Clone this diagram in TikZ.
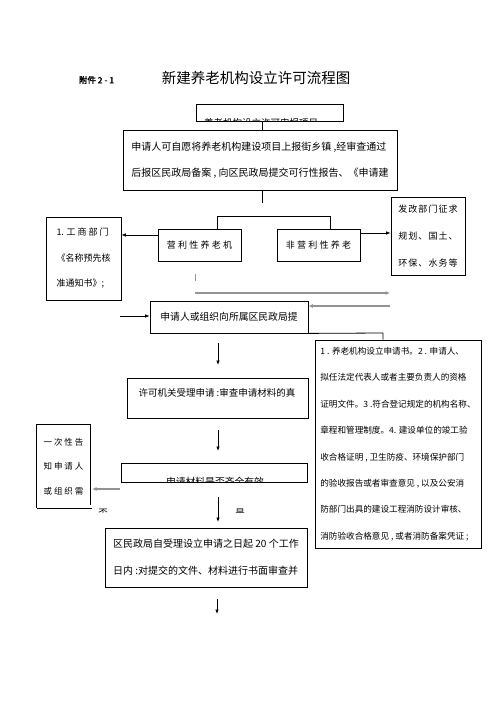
\documentclass[tikz,border=0pt]{standalone}
\usepackage{fontspec}
\setmainfont{Noto Sans CJK SC}
\newfontfamily\lsA[LetterSpace=25]{Noto Sans CJK SC}
\newfontfamily\lsB[LetterSpace=12]{Noto Sans CJK SC}
\newfontfamily\fbold[FakeBold=2]{Noto Sans CJK SC}
\usetikzlibrary{arrows.meta,calc}
\begin{document}
\begin{tikzpicture}[x=1pt,y=-1pt,
  box/.style={draw,line width=0.8pt,inner sep=0pt,align=left},
  arr/.style={-{Latex[length=4.5pt,width=3.6pt]},line width=0.8pt},
  garr/.style={-{Latex[length=4.5pt,width=4pt]},line width=1.3pt,draw=gray!85,fill=gray!85},
  ln/.style={line width=0.8pt}]
\useasboundingbox[fill=white] (0,0) rectangle (496,702);

% header
\node[font=\fbold\fontsize{8.5}{10}\selectfont] (fj) at (96.5,80) {附件 2 - 1};
\node[font=\fontsize{14.5}{16}\selectfont] (title) at (256,78) {新建养老机构设立许可流程图};

% top box with clipped text
\node[box,minimum width=147pt,minimum height=17pt] (top) at (269.5,112.5) {};
\begin{scope}
\clip (196,104) rectangle (343,121);
\node[font=\fontsize{9.5}{10}\selectfont] (toptext) at (261,122.5) {养老机构设立许可申报项目};
\end{scope}

% big box
\node[box,minimum width=274pt,minimum height=60pt,font=\fontsize{10}{26}\selectfont] (big) at (260,160)
  {申请人可自愿将养老机构建设项目上报街乡镇 ,经审查通过\\后报区民政局备案 , 向区民政局提交可行性报告、《申请建};
\draw[ln] ($(top.south)+(-7.5,0)$) -- ($(big.north)+(2,0)$);
\draw[ln] ($(big.south)+(2,0)$) -- ++(0,13);

% two type boxes
\node[box,minimum width=83pt,minimum height=32pt,font=\lsA\fontsize{9}{10}\selectfont] (ying) at (199.5,245) {营利性养老机};
\node[box,minimum width=83pt,minimum height=32pt,font=\lsA\fontsize{9}{10}\selectfont] (fei) at (318.5,245) {非营利性养老};
\coordinate (bl) at (217,216);
\coordinate (br) at (330,216);
\draw[ln] (bl |- ying.north) -- (bl) -- (br) -- (br |- fei.north);

% side boxes
\node[box,minimum width=75pt,minimum height=83pt,font=\fontsize{9}{25.5}\selectfont] (gs) at (83.5,258.5)
  {1. 工 商 部 门\\《名称预先核\\准通知书》;};
\node[box,minimum width=74pt,minimum height=78pt,font=\lsB\fontsize{9}{27}\selectfont] (fg) at (428,236)
  {发改部门征求\\规划、国土、\\环保、水务等};
\coordinate (a1) at ($(ying.west)+(0,-10)$);
\draw[arr] (a1) -- (a1 -| gs.east);
\coordinate (a2) at ($(fei.east)+(0,-12)$);
\draw[arr] (a2) -- (a2 -| fg.west);

% gray marks and arrows
\coordinate (t1) at (195,274);
\coordinate (t2) at (195,281);
\draw[line width=1pt,draw=gray!85] (t1) -- (t2);
\coordinate (g1) at (195,293);
\coordinate (g2) at (390,293);
\draw[garr] (g1) -- (g2);

% application box
\node[box,minimum width=158pt,minimum height=32pt,font=\fontsize{9.8}{10}\selectfont] (shen) at (229,317) {申请人或组织向所属区民政局提};
\coordinate (g3) at (390,306);
\draw[garr] (g3) -- (g3 -| shen.east);
\coordinate (in) at (120,316);
\draw[arr] (in) -- (in -| shen.west);

% right material box
\node[box,minimum width=166pt,minimum height=208pt,font=\fontsize{8.6}{26.4}\selectfont] (rb) at (398,444)
  {1 . 养老机构设立申请书。2 . 申请人、\\拟任法定代表人或者主要负责人的资格\\证明文件。3 .符合登记规定的机构名称、\\章程和管理制度。4. 建设单位的竣工验\\收合格证明 , 卫生防疫、环境保护部门\\的验收报告或者审查意见 , 以及公安消\\防部门出具的建设工程消防设计审核、\\消防验收合格意见 , 或者消防备案凭证 ;};
\coordinate (c1) at (383,333);
\draw[ln] (shen.south east) -- (c1) -- (c1 |- rb.north);

% acceptance box
\coordinate (d1) at (218,343);
\coordinate (d2) at (218,365);
\draw[arr] (d1) -- (d2);
\node[box,minimum width=181pt,minimum height=40pt] (xk) at (217.5,398) {};
\node[font=\fontsize{9.5}{10}\selectfont] (xkt) at (217,393) {许可机关受理申请 :审查申请材料的真};

\coordinate (d3) at (218,430);
\coordinate (d4) at (218,451);
\draw[arr] (d3) -- (d4);

% completeness box with clipped text
\node[box,minimum width=186pt,minimum height=19pt] (cl) at (214,472.5) {};
\begin{scope}
\clip (121,463) rectangle (307,481);
\node[font=\fontsize{9.8}{10}\selectfont] (clt) at (215,482) {申请材料是否齐全有效};
\end{scope}

% notification box (open)
\node[minimum width=53pt,minimum height=83pt,inner sep=0pt,align=left,font=\fontsize{8.5}{24.5}\selectfont] (yc) at (63.5,466.5)
  {一 次 性 告\\知 申 请 人\\或 组 织 需};
\draw[ln] (yc.south west) -- (yc.north west) -- (yc.north east) -- ($(yc.south east)+(0,-3)$);
\draw[ln] (yc.south west) -- ($(yc.south east)+(2,0)$);
\coordinate (g4) at (120,489);
\draw[garr] (g4) -- ($(g4 -| yc.east)+(2,0)$);

% clipped yes / no
\begin{scope}
\clip (92,508.6) rectangle (118,512.8);
\node[font=\fontsize{9.5}{10}\selectfont] (fou) at (103,513) {否};
\end{scope}
\begin{scope}
\clip (228,508.6) rectangle (254,512.8);
\node[font=\fontsize{9.5}{10}\selectfont] (shi) at (240,513) {是};
\end{scope}

\coordinate (d5) at (218,497);
\coordinate (d6) at (218,522);
\draw[arr] (d5) -- (d6);

% district review box
\node[box,minimum width=202pt,minimum height=59pt,font=\fontsize{10}{27}\selectfont] (qu) at (206,557.5)
  {区民政局自受理设立申请之日起 20 个工作\\日内 :对提交的文件、材料进行书面审查并};

\coordinate (d7) at (217,599);
\coordinate (d8) at (217,614);
\draw[arr] (d7) -- (d8);
\end{tikzpicture}
\end{document}
